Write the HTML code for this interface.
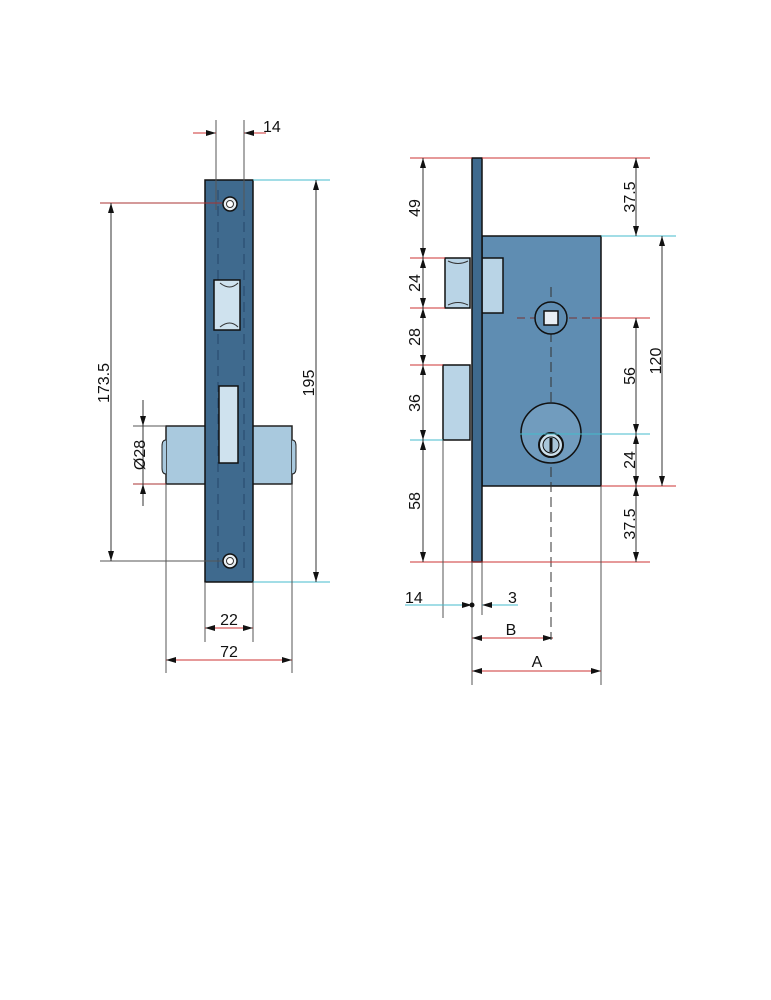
<!DOCTYPE html>
<html><head><meta charset="utf-8"><style>
html,body{margin:0;padding:0;background:#fff;}
svg{display:block;}
text{font-family:"Liberation Sans",sans-serif;font-size:16px;fill:#111;}
</style></head><body>
<svg width="771" height="1000" viewBox="0 0 771 1000" xmlns="http://www.w3.org/2000/svg">
<defs>
<marker id="a" viewBox="0 0 10 6" refX="10" refY="3" markerWidth="10" markerHeight="6" orient="auto-start-reverse"><path d="M0,0L10,3L0,6z" fill="#111"/></marker>
</defs>
<g stroke-width="1" fill="none">
<rect x="166" y="426" width="126" height="58" fill="#a9c9de" stroke="#222" stroke-width="1.5"/>
<path d="M166,440 q-4,0 -4,6 v22 q0,6 4,6" stroke="#222" fill="#a9c9de"/>
<path d="M292,440 q4,0 4,6 v22 q0,6 -4,6" stroke="#222" fill="#a9c9de"/>
<rect x="205" y="180" width="48" height="402" fill="#3f6a8e" stroke="#111" stroke-width="1.5"/>
<line x1="218" y1="190" x2="218" y2="570" stroke="#25476a" stroke-dasharray="10 6"/>
<line x1="244" y1="190" x2="244" y2="570" stroke="#25476a" stroke-dasharray="10 6"/>
<path d="M214,280 h26 v50 h-26z" fill="#cfe2ee" stroke="#111" stroke-width="1.5"/>
<path d="M220,283 q10,8 18,0 M220,327 q10,-8 18,0" stroke="#333"/>
<rect x="219" y="386" width="19" height="77" fill="#cfe2ee" stroke="#111" stroke-width="1.5"/>
<circle cx="230" cy="204" r="7" fill="#e8eef2" stroke="#111" stroke-width="1.5"/><circle cx="230" cy="204" r="3.5" fill="#fff" stroke="#333"/>
<circle cx="230" cy="561" r="7" fill="#e8eef2" stroke="#111" stroke-width="1.5"/><circle cx="230" cy="561" r="3.5" fill="#fff" stroke="#333"/>
<line x1="216" y1="120" x2="216" y2="210" stroke="#555"/>
<line x1="244" y1="120" x2="244" y2="210" stroke="#555"/>
<line x1="193" y1="133" x2="216" y2="133" stroke="#c33" marker-end="url(#a)"/>
<line x1="266" y1="133" x2="244" y2="133" stroke="#c33" marker-end="url(#a)"/>
<line x1="100" y1="203" x2="222" y2="203" stroke="#a33"/>
<line x1="100" y1="561" x2="222" y2="561" stroke="#555"/>
<line x1="111" y1="203" x2="111" y2="561" stroke="#333" marker-start="url(#a)" marker-end="url(#a)"/>
<line x1="253" y1="180" x2="330" y2="180" stroke="#4bc"/>
<line x1="253" y1="582" x2="330" y2="582" stroke="#4bc"/>
<line x1="316" y1="180" x2="316" y2="582" stroke="#333" marker-start="url(#a)" marker-end="url(#a)"/>
<line x1="133" y1="426" x2="166" y2="426" stroke="#555"/>
<line x1="133" y1="484" x2="166" y2="484" stroke="#a33"/>
<line x1="143" y1="400" x2="143" y2="426" stroke="#333" marker-end="url(#a)"/>
<line x1="143" y1="426" x2="143" y2="484" stroke="#333"/>
<line x1="143" y1="506" x2="143" y2="484" stroke="#333" marker-end="url(#a)"/>
<line x1="205" y1="582" x2="205" y2="642" stroke="#555"/>
<line x1="253" y1="582" x2="253" y2="642" stroke="#555"/>
<line x1="166" y1="484" x2="166" y2="673" stroke="#555"/>
<line x1="292" y1="484" x2="292" y2="673" stroke="#555"/>
<line x1="205" y1="628" x2="253" y2="628" stroke="#c33" marker-start="url(#a)" marker-end="url(#a)"/>
<line x1="166" y1="660" x2="292" y2="660" stroke="#c33" marker-start="url(#a)" marker-end="url(#a)"/>

<rect x="482" y="236" width="119" height="250" fill="#5f8db2" stroke="#111" stroke-width="1.5"/>
<rect x="445" y="258" width="25" height="50" fill="#b9d4e6" stroke="#111" stroke-width="1.5"/>
<path d="M448,261 q10,5 20,0 M448,305 q10,-5 20,0" stroke="#333"/>
<rect x="482" y="258" width="21" height="55" fill="#b9d4e6" stroke="#111" stroke-width="1.5"/>
<rect x="443" y="365" width="27" height="75" fill="#b9d4e6" stroke="#111" stroke-width="1.5"/>
<rect x="472" y="158" width="10" height="404" fill="#3f6a8e" stroke="#111" stroke-width="1.5"/>
<line x1="517" y1="318" x2="592" y2="318" stroke="#733" stroke-dasharray="8 5"/>
<line x1="551" y1="287" x2="551" y2="640" stroke="#333" stroke-dasharray="10 5"/>
<circle cx="551" cy="318" r="16" fill="#5f8db2" stroke="#111" stroke-width="1.5"/>
<rect x="544" y="311" width="14" height="14" fill="#e8eef4" stroke="#111" stroke-width="1.5"/>
<circle cx="551" cy="433" r="30" fill="#719cbe" stroke="#111" stroke-width="1.5"/>
<circle cx="551" cy="445" r="12" fill="#cde0ec" stroke="#111" stroke-width="2"/>
<circle cx="551" cy="445" r="8" fill="#a9c6da" stroke="#111"/>
<path d="M551,438 v14" stroke="#111" stroke-width="3"/>
<line x1="520" y1="434" x2="650" y2="434" stroke="#4bc"/>
<line x1="410" y1="158" x2="472" y2="158" stroke="#c33"/>
<line x1="410" y1="258" x2="445" y2="258" stroke="#c33"/>
<line x1="410" y1="308" x2="445" y2="308" stroke="#c33"/>
<line x1="410" y1="365" x2="443" y2="365" stroke="#c33"/>
<line x1="410" y1="440" x2="443" y2="440" stroke="#4bc"/>
<line x1="410" y1="562" x2="650" y2="562" stroke="#c33"/>
<line x1="423" y1="158" x2="423" y2="258" stroke="#333" marker-start="url(#a)" marker-end="url(#a)"/>
<line x1="423" y1="258" x2="423" y2="308" stroke="#333" marker-start="url(#a)" marker-end="url(#a)"/>
<line x1="423" y1="308" x2="423" y2="365" stroke="#333" marker-start="url(#a)" marker-end="url(#a)"/>
<line x1="423" y1="365" x2="423" y2="440" stroke="#333" marker-start="url(#a)" marker-end="url(#a)"/>
<line x1="423" y1="440" x2="423" y2="562" stroke="#333" marker-start="url(#a)" marker-end="url(#a)"/>
<line x1="482" y1="158" x2="650" y2="158" stroke="#c33"/>
<line x1="601" y1="236" x2="676" y2="236" stroke="#4bc"/>
<line x1="592" y1="318" x2="650" y2="318" stroke="#c33"/>
<line x1="601" y1="486" x2="676" y2="486" stroke="#c33"/>
<line x1="636" y1="158" x2="636" y2="236" stroke="#333" marker-start="url(#a)" marker-end="url(#a)"/>
<line x1="636" y1="318" x2="636" y2="434" stroke="#333" marker-start="url(#a)" marker-end="url(#a)"/>
<line x1="636" y1="434" x2="636" y2="486" stroke="#333" marker-start="url(#a)" marker-end="url(#a)"/>
<line x1="636" y1="486" x2="636" y2="562" stroke="#333" marker-start="url(#a)" marker-end="url(#a)"/>
<line x1="662" y1="236" x2="662" y2="486" stroke="#333" marker-start="url(#a)" marker-end="url(#a)"/>
<line x1="443" y1="440" x2="443" y2="618" stroke="#555"/>
<line x1="482" y1="562" x2="482" y2="615" stroke="#555"/>
<line x1="472" y1="562" x2="472" y2="685" stroke="#555"/>
<line x1="601" y1="486" x2="601" y2="685" stroke="#555"/>
<line x1="405" y1="605" x2="472" y2="605" stroke="#4bc" marker-end="url(#a)"/>
<line x1="518" y1="605" x2="482" y2="605" stroke="#4bc" marker-end="url(#a)"/>
<circle cx="472" cy="605" r="2.5" fill="#111"/>
<line x1="472" y1="638" x2="553" y2="638" stroke="#c33" marker-start="url(#a)" marker-end="url(#a)"/>
<line x1="472" y1="671" x2="601" y2="671" stroke="#c33" marker-start="url(#a)" marker-end="url(#a)"/>
</g>
<text x="263" y="132">14</text>
<text x="229" y="625" text-anchor="middle">22</text>
<text x="229" y="657" text-anchor="middle">72</text>
<text transform="translate(109,383) rotate(-90)" text-anchor="middle">173.5</text>
<text transform="translate(314,383) rotate(-90)" text-anchor="middle">195</text>
<text transform="translate(145,455) rotate(-90)" text-anchor="middle">Ø28</text>
<text transform="translate(420,208) rotate(-90)" text-anchor="middle">49</text>
<text transform="translate(420,283) rotate(-90)" text-anchor="middle">24</text>
<text transform="translate(420,337) rotate(-90)" text-anchor="middle">28</text>
<text transform="translate(420,403) rotate(-90)" text-anchor="middle">36</text>
<text transform="translate(420,501) rotate(-90)" text-anchor="middle">58</text>
<text transform="translate(635,197) rotate(-90)" text-anchor="middle">37.5</text>
<text transform="translate(635,376) rotate(-90)" text-anchor="middle">56</text>
<text transform="translate(635,460) rotate(-90)" text-anchor="middle">24</text>
<text transform="translate(635,524) rotate(-90)" text-anchor="middle">37.5</text>
<text transform="translate(661,361) rotate(-90)" text-anchor="middle">120</text>
<text x="405" y="603">14</text>
<text x="508" y="603">3</text>
<text x="511" y="635" text-anchor="middle">B</text>
<text x="537" y="667" text-anchor="middle">A</text>
</svg>
</body></html>
